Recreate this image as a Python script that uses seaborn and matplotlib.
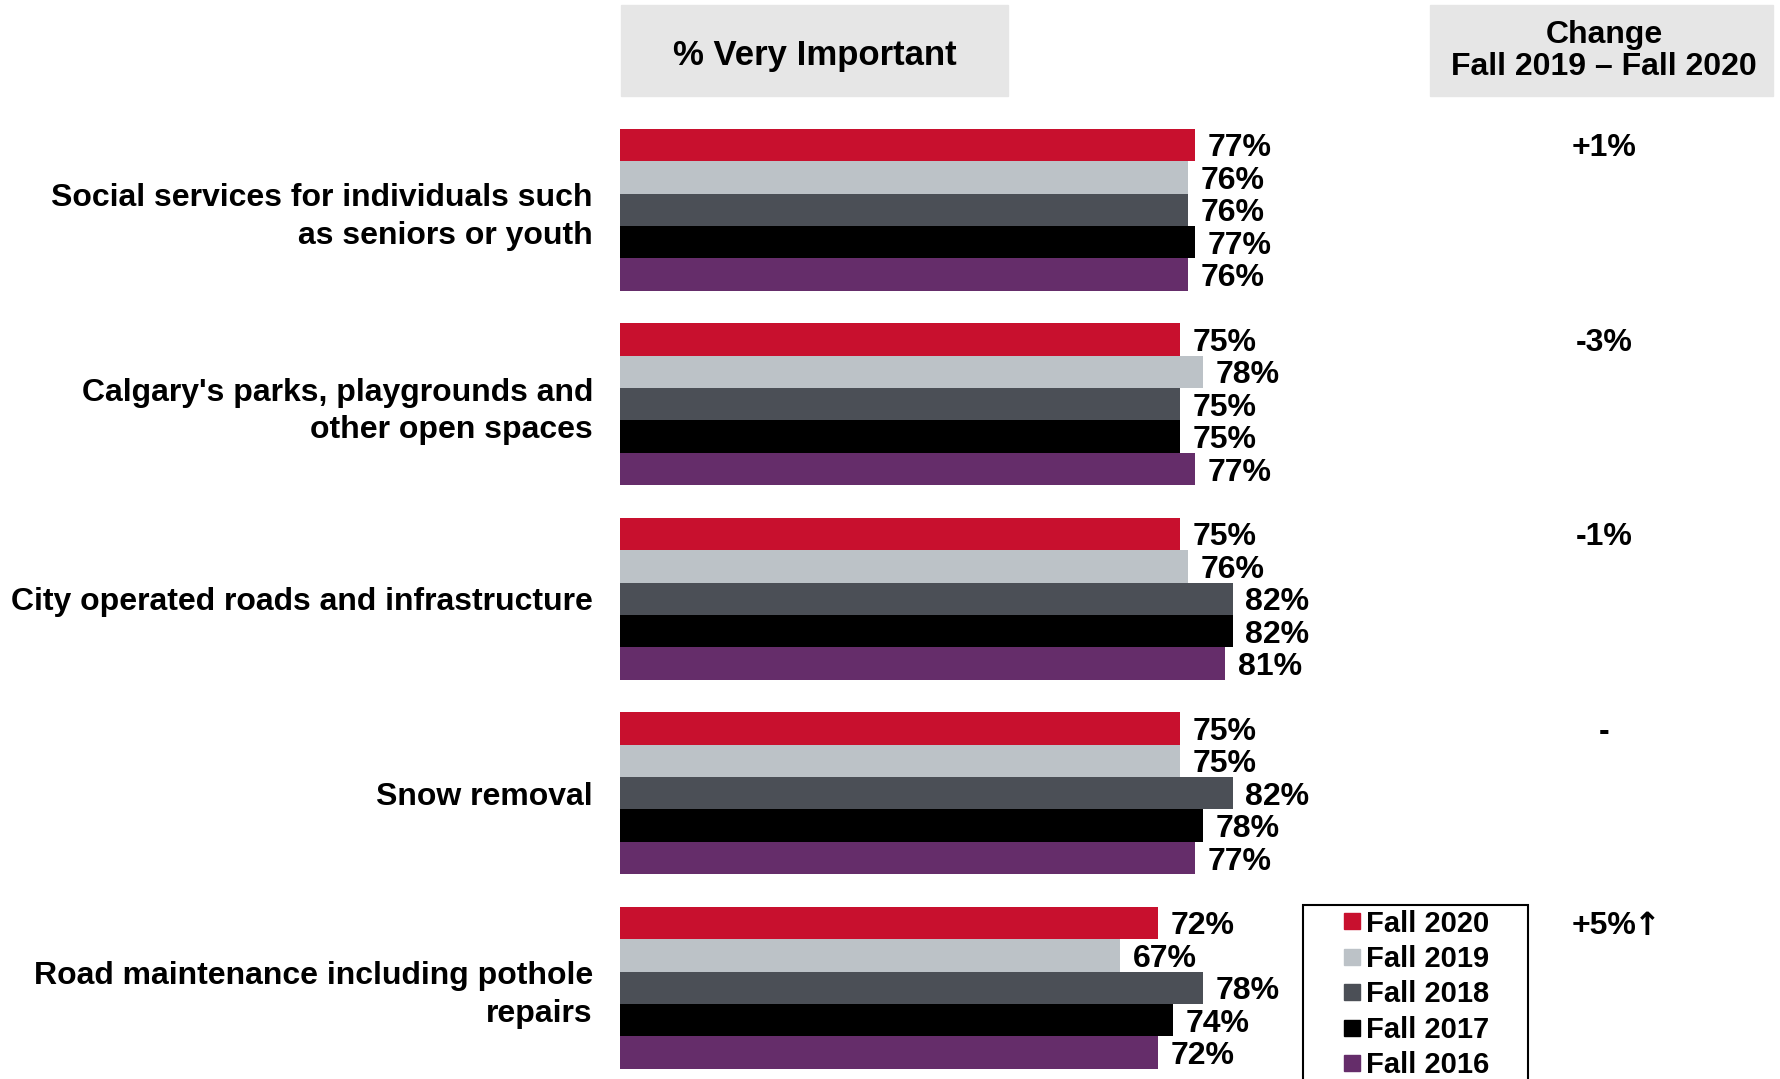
import matplotlib
matplotlib.use("Agg")
import matplotlib.pyplot as plt
from matplotlib.patches import Rectangle
from matplotlib.lines import Line2D
from matplotlib.transforms import blended_transform_factory
import pandas as pd
import seaborn as sns

# data
categories = [
    "Social services for individuals such\nas seniors or youth",
    "Calgary's parks, playgrounds and\nother open spaces",
    "City operated roads and infrastructure",
    "Snow removal",
    "Road maintenance including pothole\nrepairs",
]
seasons = ["Fall 2020", "Fall 2019", "Fall 2018", "Fall 2017", "Fall 2016"]
fall_2020 = [77, 75, 75, 75, 72]
fall_2019 = [76, 78, 76, 75, 67]
fall_2018 = [76, 75, 82, 82, 78]
fall_2017 = [77, 75, 82, 78, 74]
fall_2016 = [76, 77, 81, 77, 72]
change_labels = ["+1%", "-3%", "-1%", "-", "+5%"]
change_arrows = ["", "", "", "", "\u2191"]
colors = ["#C8102E", "#BCC2C7", "#4B4F56", "#000000", "#652D6A"]

sns.set_style("white")
plt.rcParams["font.family"] = ["Liberation Sans", "DejaVu Sans"]
plt.rcParams["font.weight"] = "bold"
plt.rcParams["text.color"] = "black"
plt.rcParams["ytick.color"] = "black"
plt.rcParams["ytick.labelcolor"] = "black"

rows = []
for s, vals in zip(seasons, [fall_2020, fall_2019, fall_2018, fall_2017, fall_2016]):
    for c, v in zip(categories, vals):
        rows.append({"category": c, "season": s, "value": v})
df = pd.DataFrame(rows)

W, H = 1781, 1079
fig = plt.figure(figsize=(W / 100, H / 100), dpi=100)

# axes placed in pixel terms of the reference
ax = fig.add_axes([620 / W, 1 - 1085 / H, 747 / W, 972.5 / H])
sns.barplot(data=df, y="category", x="value", hue="season", order=categories,
            hue_order=seasons, palette=colors, orient="h", width=0.835,
            saturation=1, linewidth=0, legend=False, ax=ax)
ax.set_xlim(0, 100)
ax.set_ylim(4.5, -0.5)
ax.set_xlabel("")
ax.set_ylabel("")
ax.set_xticks([])
ax.tick_params(axis="y", length=0, pad=19.5, labelsize=23, labelcolor="black")
for lbl in ax.get_yticklabels():
    lbl.set_fontweight("bold")
    lbl.set_ha("right")
    lbl.set_linespacing(1.32)
for sp in ax.spines.values():
    sp.set_visible(False)

for cont in ax.containers:
    txts = ax.bar_label(cont, labels=[f"{b.get_width():.0f}%" for b in cont],
                        padding=9, fontsize=23, fontweight="bold", color="black")
    for t in txts:
        t.set_va("center_baseline")

# change column, aligned with the Fall 2020 bars
trans = blended_transform_factory(fig.transFigure, ax.transData)
red_bars = ax.containers[0]
for bar, txt, arr in zip(red_bars, change_labels, change_arrows):
    yc = bar.get_y() + bar.get_height() / 2
    t = ax.text(1604 / W, yc, txt, transform=trans, ha="center",
                va="center_baseline", fontsize=23, fontweight="bold")
    if arr:
        ax.annotate(arr, xy=(1, 0.5), xycoords=t, xytext=(-2, 0),
                    textcoords="offset points", ha="left", va="center",
                    fontsize=23, fontweight="bold", family=["DejaVu Sans"])

# header boxes
fig.patches.append(Rectangle((621 / W, 1 - 96 / H), 387 / W, 91 / H,
                             transform=fig.transFigure, color="#E6E6E6", zorder=0))
fig.patches.append(Rectangle((1430 / W, 1 - 96 / H), 343 / W, 91 / H,
                             transform=fig.transFigure, color="#E6E6E6", zorder=0))
fig.text(814.5 / W, 1 - 55 / H, "% Very Important", ha="center", va="center",
         fontsize=25, fontweight="bold")
fig.text(1604 / W, 1 - 51 / H, "Change\nFall 2019 \u2013 Fall 2020", ha="center",
         va="center", fontsize=23, fontweight="bold", linespacing=1.13)

# legend with a separate frame
fig.patches.append(Rectangle((1303 / W, -0.05), 225 / W, 1 - 905 / H + 0.05,
                             transform=fig.transFigure, fill=False,
                             edgecolor="black", linewidth=1.5, zorder=3))
handles = [Line2D([], [], marker="s", linestyle="", markersize=11,
                  markerfacecolor=c, markeredgecolor=c) for c in colors]
fig.legend(handles, seasons, loc="upper left",
           bbox_to_anchor=(1337 / W, 1 - 909.5 / H), frameon=False, borderpad=0,
           borderaxespad=0, handlelength=1.0, handletextpad=0.0,
           labelspacing=0.255, prop={"size": 21, "weight": "bold"})

plt.savefig("out.png", dpi=100)
